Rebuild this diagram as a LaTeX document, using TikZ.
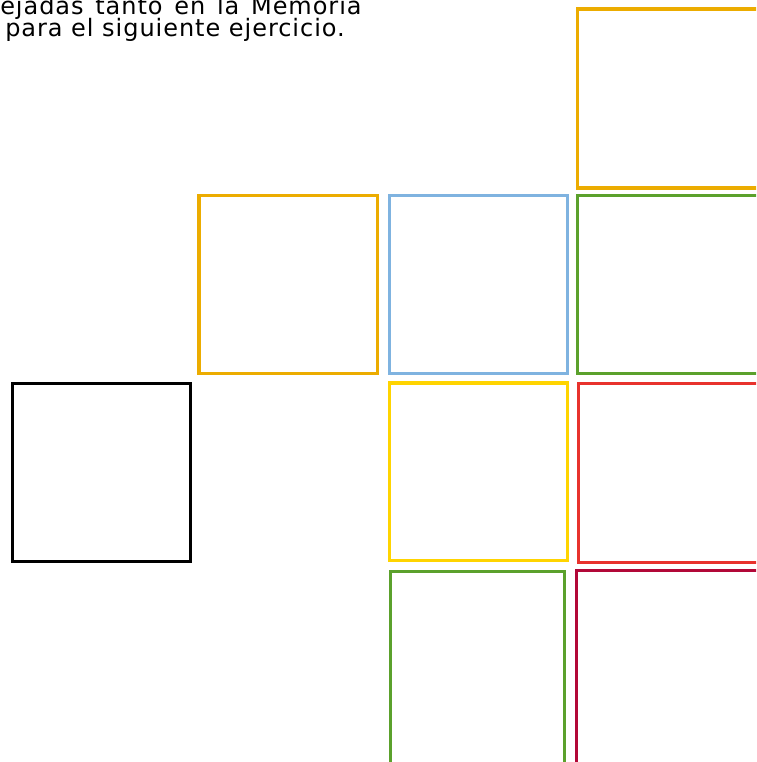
\documentclass[tikz,border=0pt]{standalone}
\usepackage{fontspec}
\setmainfont{DejaVu Sans}
\newfontfamily\notefont[LetterSpace=4]{DejaVu Sans}
\usepackage{tikz}
\definecolor{cellorange}{RGB}{236,172,0}
\definecolor{cellblue}{RGB}{127,179,224}
\definecolor{cellgreen}{RGB}{91,161,44}
\definecolor{cellyellow}{RGB}{255,212,0}
\definecolor{cellred}{RGB}{232,50,45}
\definecolor{cellcrimson}{RGB}{178,8,56}

\begin{document}
\begin{tikzpicture}[x=0.75pt,y=-0.75pt,
    cell/.style={draw,line width=2.3pt,anchor=north west,inner sep=0pt,outer sep=0pt,
      minimum width=133.5pt,minimum height=133.5pt},
    note/.style={anchor=base west,inner sep=0pt,font=\notefont\fontsize{18}{18}\selectfont}]
  \useasboundingbox (0,0) rectangle (756,762);
  \clip (0,0) rectangle (756,762);
  \node[note] (L1) at (0,15) {\makebox[271pt][s]{ejadas tanto en la Memoria}};
  \node[note] (L2) at (5,37) {para el siguiente ejercicio.};
  \node[cell,draw=cellorange,minimum width=140pt,minimum height=134.25pt] (O1) at (577.5,9) {};
  \node[cell,draw=cellorange,minimum width=134pt,minimum height=133pt] (O2) at (199,195.7) {};
  \node[cell,draw=cellblue,minimum width=133.8pt,minimum height=133pt] (B2) at (389.3,195.7) {};
  \node[cell,draw=cellgreen,minimum width=140pt,minimum height=133pt] (G2) at (577.7,195.7) {};
  \node[cell,draw=black,minimum width=133.8pt,minimum height=133.3pt] (K3) at (12.3,383.3) {};
  \node[cell,draw=cellyellow,minimum width=133.3pt,minimum height=133.3pt] (Y3) at (389.3,383) {};
  \node[cell,draw=cellred,minimum width=140pt,minimum height=134.3pt] (R3) at (578.3,383.3) {};
  \node[cell,draw=cellgreen,minimum width=130.2pt,minimum height=150pt] (G4) at (390.7,571.3) {};
  \node[cell,draw=cellcrimson,minimum width=140pt,minimum height=150pt] (C4) at (576.3,570.3) {};
\end{tikzpicture}
\end{document}
